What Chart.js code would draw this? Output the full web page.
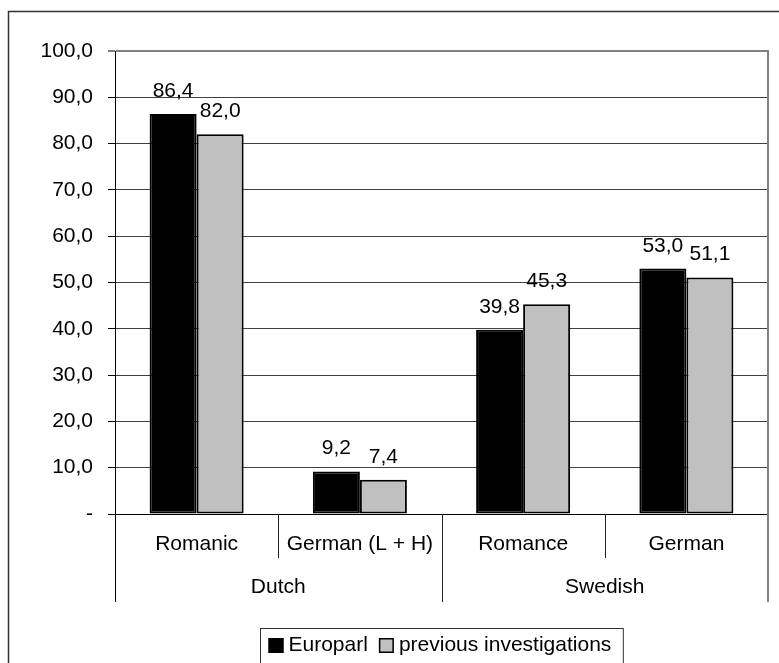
<!DOCTYPE html>
<html>
<head>
<meta charset="utf-8">
<script src="https://cdn.jsdelivr.net/npm/chart.js@4.4.1/dist/chart.umd.min.js"></script>
<style>
  html, body { margin: 0; padding: 0; background: #fff; }
  canvas { display: block; }
</style>
</head>
<body>
<canvas id="chart" width="779" height="663"></canvas>
<script>
// Category labels, grouped by source language
const categories = ['Romanic', 'German (L + H)', 'Romance', 'German'];
const groups = ['Dutch', 'Swedish'];
const groupSizes = [2, 2];

// Series
const seriesNames = ['Europarl', 'previous investigations'];
const europarl = [86.4, 9.2, 39.8, 53.0];
const previous = [82.0, 7.4, 45.3, 51.1];

// Value axis
const yMin = 0;
const yMax = 100;
const yStep = 10;

const FONT = '"Liberation Sans", Arial, sans-serif';
const FONT_SIZE = 21;

function fmt(v) {
  return v === 0 ? '-' : v.toFixed(1).replace('.', ',');
}

// White page with the outer frame (left and top edges)
const framePlugin = {
  id: 'frame',
  beforeDraw(chart) {
    const ctx = chart.ctx;
    ctx.save();
    ctx.fillStyle = '#fff';
    ctx.fillRect(0, 0, chart.width, chart.height);
    ctx.strokeStyle = '#333';
    ctx.lineWidth = 1.5;
    ctx.beginPath();
    ctx.moveTo(chart.width + 2, 11.5);
    ctx.lineTo(8.5, 11.5);
    ctx.lineTo(8.5, chart.height + 2);
    ctx.stroke();
    ctx.restore();
  }
};

// Value labels above each bar
const valueLabelPlugin = {
  id: 'valueLabels',
  afterDatasetsDraw(chart) {
    const ctx = chart.ctx;
    ctx.save();
    ctx.font = FONT_SIZE + 'px ' + FONT;
    ctx.fillStyle = '#000';
    ctx.textAlign = 'center';
    ctx.textBaseline = 'alphabetic';
    chart.data.datasets.forEach((ds, di) => {
      const meta = chart.getDatasetMeta(di);
      meta.data.forEach((bar, i) => {
        const p = bar.getProps(['x', 'y'], true);
        ctx.fillText(fmt(ds.data[i]), p.x, p.y - 17);
      });
    });
    ctx.restore();
  }
};

// Plot border, two-level category dividers, group labels and legend
const axisDecorPlugin = {
  id: 'axisDecor',
  afterDraw(chart) {
    const ctx = chart.ctx;
    const area = chart.chartArea;
    const xs = chart.scales.x;
    const n = categories.length;
    const catW = (xs.right - xs.left) / n;
    const catBottom = 558;
    const groupBottom = 602;
    const groupLabelY = 587;

    ctx.save();

    // right edge of plot area
    ctx.strokeStyle = '#808080';
    ctx.lineWidth = 2;
    ctx.beginPath();
    ctx.moveTo(area.right, area.top - 1);
    ctx.lineTo(area.right, groupBottom);
    ctx.stroke();

    // left axis continues down through the category rows
    ctx.strokeStyle = '#000';
    ctx.lineWidth = 1;
    const lx = Math.round(area.left) + 0.5;
    ctx.beginPath();
    ctx.moveTo(lx, area.bottom);
    ctx.lineTo(lx, groupBottom);
    ctx.stroke();

    // dividers between categories and between groups
    ctx.strokeStyle = '#222';
    let idx = 0;
    const groupEdges = new Set();
    groupSizes.forEach(s => { idx += s; groupEdges.add(idx); });
    for (let i = 1; i < n; i++) {
      const x = Math.round(xs.getPixelForValue(i) - catW / 2) + 0.5;
      ctx.beginPath();
      ctx.moveTo(x, area.bottom);
      ctx.lineTo(x, groupEdges.has(i) ? groupBottom : catBottom);
      ctx.stroke();
    }

    // group labels
    ctx.font = FONT_SIZE + 'px ' + FONT;
    ctx.fillStyle = '#000';
    ctx.textAlign = 'center';
    ctx.textBaseline = 'middle';
    let start = 0;
    groups.forEach((g, gi) => {
      const end = start + groupSizes[gi] - 1;
      const x0 = xs.getPixelForValue(start) - catW / 2;
      const x1 = xs.getPixelForValue(end) + catW / 2;
      ctx.fillText(g, (x0 + x1) / 2, groupLabelY);
      start = end + 1;
    });

    // legend
    const box = 15, gap = 5, itemGap = 11, padL = 8, padR = 12;
    const widths = chart.data.datasets.map(ds => ctx.measureText(ds.label).width);
    let content = 0;
    widths.forEach((w, i) => { content += box + gap + w + (i ? itemGap : 0); });
    const legW = content + padL + padR;
    const cx = (area.left + area.right) / 2;
    const legX = Math.round(cx - legW / 2) + 0.5;
    const legY = 628.5;
    ctx.strokeStyle = '#333';
    ctx.lineWidth = 1;
    ctx.strokeRect(legX, legY, legW, 42);
    let x = legX + padL;
    const midY = 645.5;
    ctx.textAlign = 'left';
    chart.data.datasets.forEach((ds, i) => {
      ctx.fillStyle = ds.backgroundColor;
      ctx.fillRect(x, midY - box / 2, box, box);
      ctx.strokeStyle = '#000';
      ctx.lineWidth = 1.5;
      ctx.strokeRect(x + 0.75, midY - box / 2 + 0.75, box - 1.5, box - 1.5);
      ctx.fillStyle = '#000';
      ctx.fillText(ds.label, x + box + gap, midY);
      x += box + gap + widths[i] + itemGap;
    });

    ctx.restore();
  }
};

Chart.defaults.font.family = FONT;
Chart.defaults.font.size = FONT_SIZE;
Chart.defaults.color = '#000';

new Chart(document.getElementById('chart'), {
  type: 'bar',
  data: {
    labels: categories,
    datasets: [
      {
        label: seriesNames[0],
        data: europarl,
        backgroundColor: '#000000',
        borderColor: '#000000',
        borderWidth: 2,
        borderSkipped: false
      },
      {
        label: seriesNames[1],
        data: previous,
        backgroundColor: '#c0c0c0',
        borderColor: '#000000',
        borderWidth: 2,
        borderSkipped: false
      }
    ]
  },
  options: {
    responsive: false,
    animation: false,
    devicePixelRatio: 1,
    layout: { padding: { left: 0, right: 11, top: 51, bottom: 0 } },
    datasets: { bar: { categoryPercentage: 0.576, barPercentage: 1.0 } },
    plugins: {
      legend: { display: false },
      tooltip: { enabled: false }
    },
    scales: {
      x: {
        position: 'bottom',
        grid: { display: false, drawTicks: false },
        border: { display: true, color: '#000', width: 1 },
        ticks: { padding: 18, maxRotation: 0, autoSkip: false, font: { size: FONT_SIZE } },
        afterFit(scale) { scale.height = 149; }
      },
      y: {
        min: yMin,
        max: yMax,
        grid: {
          drawTicks: true,
          tickLength: 7,
          tickColor: '#000',
          tickWidth: 1,
          color: ctx => ctx.tick && ctx.tick.value === yMax ? '#808080' : '#404040',
          lineWidth: ctx => ctx.tick && ctx.tick.value === yMax ? 2 : 1
        },
        border: { display: true, color: '#000', width: 1 },
        ticks: {
          stepSize: yStep,
          padding: 15,
          font: { size: FONT_SIZE },
          callback: v => fmt(v)
        },
        afterFit(scale) { scale.width = 115; }
      }
    }
  },
  plugins: [framePlugin, valueLabelPlugin, axisDecorPlugin]
});
</script>
</body>
</html>
